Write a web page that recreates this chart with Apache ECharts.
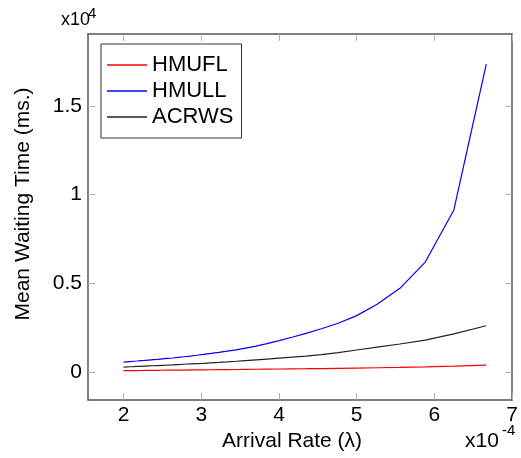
<!DOCTYPE html>
<html>
<head>
<meta charset="utf-8">
<script src="https://cdn.jsdelivr.net/npm/echarts@6.0.0/dist/echarts.min.js"></script>
<style>
  html, body { margin: 0; padding: 0; background: #fff; }
  #chart { width: 521px; height: 458px; }
</style>
</head>
<body>
<div id="chart"></div>
<script>
// Arrival rate (x10^-4)
var arrivalRate = [2.000, 2.041, 2.083, 2.128, 2.174, 2.222, 2.273, 2.326, 2.381, 2.439,
  2.500, 2.564, 2.632, 2.703, 2.778, 2.857, 2.941, 3.030, 3.125, 3.226,
  3.333, 3.448, 3.571, 3.704, 3.846, 4.000, 4.167, 4.348, 4.545, 4.762,
  5.000, 5.263, 5.556, 5.882, 6.250, 6.667];

// Mean waiting time (ms.)
var hmufl = [75, 77, 79, 81, 83, 85, 88, 90, 93, 95,
  98, 101, 104, 108, 111, 115, 119, 123, 127, 132,
  137, 142, 148, 154, 161, 168, 176, 185, 195, 207,
  222, 240, 262, 290, 330, 390];

var hmull = [560, 575, 590, 605, 620, 640, 655, 675, 695, 715,
  740, 765, 790, 820, 860, 900, 945, 995, 1050, 1110,
  1175, 1250, 1350, 1460, 1600, 1770, 1960, 2180, 2440, 2750,
  3180, 3820, 4720, 6200, 9140, 17370];

var acrws = [280, 287, 295, 303, 312, 321, 331, 342, 353, 365,
  378, 391, 405, 420, 436, 453, 471, 490, 515, 540,
  570, 605, 645, 685, 730, 780, 835, 900, 975, 1090,
  1240, 1400, 1580, 1800, 2150, 2610];

var xTicks = [2, 3, 4, 5, 6, 7];
var yTicks = [0, 5000, 10000, 15000];

function pairs(ys) {
  return arrivalRate.map(function (x, i) { return [x, ys[i]]; });
}

var FONT = 'Liberation Sans, Arial, sans-serif';
var axisLine = { show: true, onZero: false, lineStyle: { color: '#555', width: 1.5 } };
var tickStyle = { lineStyle: { color: '#b0b0b0', width: 1 } };

var chart = echarts.init(document.getElementById('chart'), null, { renderer: 'canvas' });
chart.setOption({
  animation: false,
  backgroundColor: '#fff',
  grid: { left: 88, right: 3, top: 34, bottom: 58, containLabel: false },
  legend: {
    orient: 'vertical',
    left: 101, top: 44,
    borderColor: '#333', borderWidth: 1,
    padding: [10, 8, 10, 6],
    icon: 'rect',
    itemWidth: 40, itemHeight: 1.3, itemGap: 4,
    textStyle: { fontFamily: FONT, fontSize: 22, color: '#000', lineHeight: 21 },
    data: ['HMUFL', 'HMULL', 'ACRWS']
  },
  xAxis: [{
    type: 'value', position: 'bottom', min: 1.543, max: 7.0,
    name: 'Arrival Rate (λ)', nameLocation: 'middle', nameGap: 30,
    nameTextStyle: { fontFamily: FONT, fontSize: 21, color: '#000', padding: [0, 16, 0, 0] },
    axisLine: axisLine,
    axisTick: Object.assign({ inside: true, length: 7, customValues: xTicks }, tickStyle),
    axisLabel: { customValues: xTicks, margin: 5, fontFamily: FONT, fontSize: 21, color: '#000',
      formatter: function (v) { return String(v); } },
    splitLine: { show: false }
  }, {
    type: 'value', position: 'top', min: 1.543, max: 7.0,
    axisLine: axisLine,
    axisTick: Object.assign({ inside: true, length: 7, customValues: xTicks }, tickStyle),
    axisLabel: { show: false },
    splitLine: { show: false }
  }],
  yAxis: [{
    type: 'value', position: 'left', min: -1579, max: 19063,
    name: 'Mean Waiting Time (ms.)', nameLocation: 'middle', nameGap: 54,
    nameTextStyle: { fontFamily: FONT, fontSize: 21, color: '#000', padding: [0, 0, 0, 26] },
    axisLine: axisLine,
    axisTick: Object.assign({ inside: true, length: 7, customValues: yTicks }, tickStyle),
    axisLabel: { customValues: yTicks, margin: 6, fontFamily: FONT, fontSize: 21, color: '#000',
      formatter: function (v) { return String(v / 10000); } },
    splitLine: { show: false }
  }, {
    type: 'value', position: 'right', min: -1579, max: 19063,
    axisLine: axisLine,
    axisTick: Object.assign({ inside: true, length: 7, customValues: yTicks }, tickStyle),
    axisLabel: { show: false },
    splitLine: { show: false }
  }],
  graphic: [
    { type: 'text', left: 61, top: 11, style: { text: 'x10', font: '18px ' + FONT, fill: '#000' } },
    { type: 'text', left: 88, top: 6, style: { text: '4', font: '15px ' + FONT, fill: '#000' } },
    { type: 'text', left: 465, top: 431, style: { text: 'x10', font: '21px ' + FONT, fill: '#000' } },
    { type: 'text', left: 502, top: 423, style: { text: '-4', font: '15px ' + FONT, fill: '#000' } }
  ],
  series: [{
    name: 'HMUFL', type: 'line', symbol: 'none', xAxisIndex: 0, yAxisIndex: 0,
    data: pairs(hmufl), lineStyle: { color: '#ff0000', width: 1.2 }, itemStyle: { color: '#ff0000' }
  }, {
    name: 'HMULL', type: 'line', symbol: 'none', xAxisIndex: 0, yAxisIndex: 0,
    data: pairs(hmull), lineStyle: { color: '#0000ff', width: 1.2 }, itemStyle: { color: '#0000ff' }
  }, {
    name: 'ACRWS', type: 'line', symbol: 'none', xAxisIndex: 0, yAxisIndex: 0,
    data: pairs(acrws), lineStyle: { color: '#222222', width: 1.2 }, itemStyle: { color: '#222222' }
  }]
});
</script>
</body>
</html>
